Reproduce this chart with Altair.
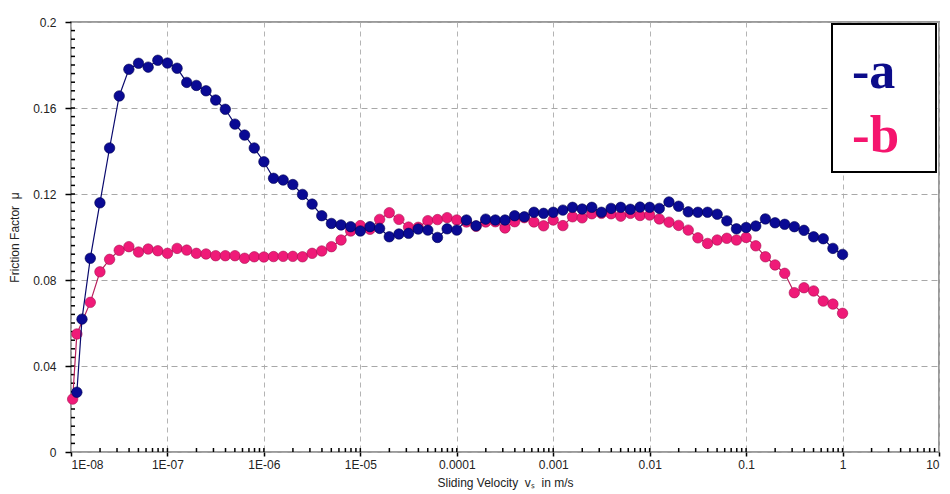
import altair as alt
import pandas as pd

# ---------------- data ----------------
# regular grid: 10 points per decade from 10^-7.8 to 1 m/s
v_grid = [
    1.585e-8, 1.995e-8, 2.512e-8, 3.162e-8, 3.981e-8, 5.012e-8, 6.310e-8, 7.943e-8,
    1.000e-7, 1.259e-7, 1.585e-7, 1.995e-7, 2.512e-7, 3.162e-7, 3.981e-7, 5.012e-7, 6.310e-7, 7.943e-7,
    1.000e-6, 1.259e-6, 1.585e-6, 1.995e-6, 2.512e-6, 3.162e-6, 3.981e-6, 5.012e-6, 6.310e-6, 7.943e-6,
    1.000e-5, 1.259e-5, 1.585e-5, 1.995e-5, 2.512e-5, 3.162e-5, 3.981e-5, 5.012e-5, 6.310e-5, 7.943e-5,
    1.000e-4, 1.259e-4, 1.585e-4, 1.995e-4, 2.512e-4, 3.162e-4, 3.981e-4, 5.012e-4, 6.310e-4, 7.943e-4,
    1.000e-3, 1.259e-3, 1.585e-3, 1.995e-3, 2.512e-3, 3.162e-3, 3.981e-3, 5.012e-3, 6.310e-3, 7.943e-3,
    1.000e-2, 1.259e-2, 1.585e-2, 1.995e-2, 2.512e-2, 3.162e-2, 3.981e-2, 5.012e-2, 6.310e-2, 7.943e-2,
    1.000e-1, 1.259e-1, 1.585e-1, 1.995e-1, 2.512e-1, 3.162e-1, 3.981e-1, 5.012e-1, 6.310e-1, 7.943e-1,
    1.0,
]
v_a_start = [1.15e-8, 1.30e-8]
v_b_start = [1.04e-8, 1.15e-8]

mu_a = [
    0.0278, 0.0618,
    0.0901, 0.1159, 0.1414, 0.1656, 0.1780, 0.1808, 0.1790, 0.1822,
    0.1809, 0.1785, 0.1719, 0.1705, 0.1680, 0.1637, 0.1594, 0.1525, 0.1474, 0.1414,
    0.1350, 0.1273, 0.1265, 0.1244, 0.1198, 0.1153, 0.1099, 0.1063, 0.1056, 0.1048,
    0.1028, 0.1048, 0.1040, 0.1001, 0.1014, 0.1017, 0.1037, 0.1032, 0.0998, 0.1038,
    0.1032, 0.1079, 0.1052, 0.1083, 0.1079, 0.1079, 0.1099, 0.1094, 0.1115, 0.1110,
    0.1115, 0.1125, 0.1138, 0.1130, 0.1138, 0.1115, 0.1133, 0.1138, 0.1129, 0.1139,
    0.1138, 0.1133, 0.1163, 0.1143, 0.1117, 0.1115, 0.1115, 0.1106, 0.1075, 0.1038,
    0.1044, 0.1051, 0.1084, 0.1066, 0.1059, 0.1048, 0.1031, 0.1001, 0.0992, 0.0947,
    0.0919,
]
mu_b = [
    0.0246, 0.0549,
    0.0696, 0.0838, 0.0896, 0.0938, 0.0955, 0.0930, 0.0944, 0.0936,
    0.0924, 0.0947, 0.0939, 0.0924, 0.0921, 0.0913, 0.0913, 0.0913, 0.0901, 0.0908,
    0.0907, 0.0909, 0.0910, 0.0910, 0.0908, 0.0924, 0.0935, 0.0955, 0.0986, 0.1028,
    0.1053, 0.1036, 0.1082, 0.1113, 0.1082, 0.1046, 0.1045, 0.1076, 0.1081, 0.1090,
    0.1079, 0.1070, 0.1050, 0.1070, 0.1071, 0.1042, 0.1071, 0.1090, 0.1070, 0.1052,
    0.1079, 0.1053, 0.1094, 0.1089, 0.1108, 0.1110, 0.1108, 0.1097, 0.1110, 0.1100,
    0.1102, 0.1084, 0.1069, 0.1054, 0.1032, 0.0996, 0.0970, 0.0986, 0.0994, 0.0986,
    0.0998, 0.0959, 0.0908, 0.0870, 0.0831, 0.0741, 0.0764, 0.0749, 0.0702, 0.0688,
    0.0645,
]

x_major = [1e-8, 1e-7, 1e-6, 1e-5, 1e-4, 1e-3, 1e-2, 1e-1, 1, 10]
x_labels = ["1E-08", "1E-07", "1E-06", "1E-05", "0.0001", "0.001", "0.01", "0.1", "1", "10"]
y_major = [0, 0.04, 0.08, 0.12, 0.16, 0.2]
y_labels = ["0", "0.04", "0.08", "0.12", "0.16", "0.2"]
x_minor = [m * d for d in [1e-8, 1e-7, 1e-6, 1e-5, 1e-4, 1e-3, 1e-2, 1e-1, 1] for m in range(1, 10)][1:]
y_minor = [round(i * 0.004, 3) for i in range(1, 50)]

legend_labels = ["-a", "-b"]
NB = "\u00a0"
x_title = f"Sliding Velocity{NB}{NB}vₛ{NB}{NB}in m/s"
y_title = f"Friction Factor{NB}{NB}μ"

# ---------------- styling ----------------
W, H = 868, 430
BLUE, BLUE_EDGE, BLUE_LINE = "#0a0a94", "#00004f", "#0a0a6e"
PINK, PINK_EDGE, PINK_LINE = "#ef1a78", "#a80f50", "#b8205e"
FONT = "Liberation Sans"

df_a = pd.DataFrame({"v": v_a_start + v_grid, "mu": mu_a})
df_b = pd.DataFrame({"v": v_b_start + v_grid, "mu": mu_b})
df_xminor = pd.DataFrame({"t": x_minor})
df_yminor = pd.DataFrame({"t": y_minor})

xscale = alt.Scale(type="log", domain=[1e-8, 10], nice=False)
yscale = alt.Scale(domain=[0, 0.2], nice=False, zero=True)

x_label_expr = f"{x_labels}[round(log(datum.value)/LN10)+8]"
y_label_expr = f"{y_labels}[round(datum.value/0.04)]"

x_main_axis = alt.Axis(
    values=x_major, labelExpr=x_label_expr, orient="bottom",
    grid=True, gridDash=[5, 4], gridColor="#b4b4b4", gridWidth=1,
    domain=False, ticks=True, tickColor="#000000", tickSize=4, tickWidth=1.5,
    labelFont=FONT, labelFontSize=12, labelColor="#222222", labelPadding=3,
    title=x_title, titleFont=FONT, titleFontSize=12,
    titleFontWeight="normal", titleColor="#222222", titlePadding=7,
)
y_main_axis = alt.Axis(
    values=y_major, labelExpr=y_label_expr, orient="left",
    grid=True, gridDash=[6, 4], gridColor="#a8a8a8", gridWidth=1,
    domain=False, ticks=True, tickColor="#000000", tickSize=6, tickWidth=1.5,
    labelFont=FONT, labelFontSize=12, labelColor="#222222", labelPadding=9,
    title=y_title, titleFont=FONT, titleFontSize=12,
    titleFontWeight="normal", titleColor="#222222", titlePadding=11,
)


def enc(axis_x=None, axis_y=None):
    return dict(
        x=alt.X("v:Q", scale=xscale, axis=axis_x),
        y=alt.Y("mu:Q", scale=yscale, axis=axis_y),
    )


base_axes = alt.Chart(df_a).mark_point(opacity=0).encode(**enc(x_main_axis, y_main_axis))

# inner (minor + major) tick marks along the two axes
x_ticks_in = alt.Chart(df_xminor).mark_rule(color="#000000", strokeWidth=1.5).encode(
    x=alt.X("t:Q", scale=xscale, axis=None), y=alt.value(H - 4), y2=alt.value(H)
)
y_ticks_in = alt.Chart(df_yminor).mark_rule(color="#000000", strokeWidth=1.5).encode(
    y=alt.Y("t:Q", scale=yscale, axis=None), x=alt.value(0), x2=alt.value(4)
)

line_b = alt.Chart(df_b).mark_line(color=PINK_LINE, strokeWidth=1.2).encode(**enc())
pts_b = alt.Chart(df_b).mark_point(
    filled=True, fill=PINK, stroke=PINK_EDGE, strokeWidth=0.6, size=110, opacity=1
).encode(**enc())
line_a = alt.Chart(df_a).mark_line(color=BLUE_LINE, strokeWidth=1.2).encode(**enc())
pts_a = alt.Chart(df_a).mark_point(
    filled=True, fill=BLUE, stroke=BLUE_EDGE, strokeWidth=0.6, size=110, opacity=1
).encode(**enc())

one = pd.DataFrame({"k": [0]})
legend_box = alt.Chart(one).mark_rect(fill="white", stroke="black", strokeWidth=2).encode(
    x=alt.value(761), x2=alt.value(865), y=alt.value(2), y2=alt.value(150)
)
legend_a = alt.Chart(one).mark_text(
    text=legend_labels[0], font="Liberation Serif", fontSize=52, fontWeight="bold",
    color="#0c0c8a", align="left", baseline="alphabetic"
).encode(x=alt.value(781), y=alt.value(66))
legend_b = alt.Chart(one).mark_text(
    text=legend_labels[1], font="Liberation Serif", fontSize=53, fontWeight="bold",
    color="#f5156e", align="left", baseline="alphabetic"
).encode(x=alt.value(781), y=alt.value(130))

chart = (
    alt.layer(base_axes, x_ticks_in, y_ticks_in, line_b, pts_b, line_a, pts_a,
              legend_box, legend_a, legend_b)
    .resolve_axis(x="independent", y="independent")
    .properties(
        width=W, height=H,
        autosize=alt.AutoSizeParams(type="none"),
        padding={"left": 63, "top": 14, "right": 3, "bottom": 40},
        background="white",
    )
    .configure_view(stroke="#9a9a9a", strokeWidth=2)
)

chart.save("out.html", embed_options={"renderer": "svg", "actions": False})
